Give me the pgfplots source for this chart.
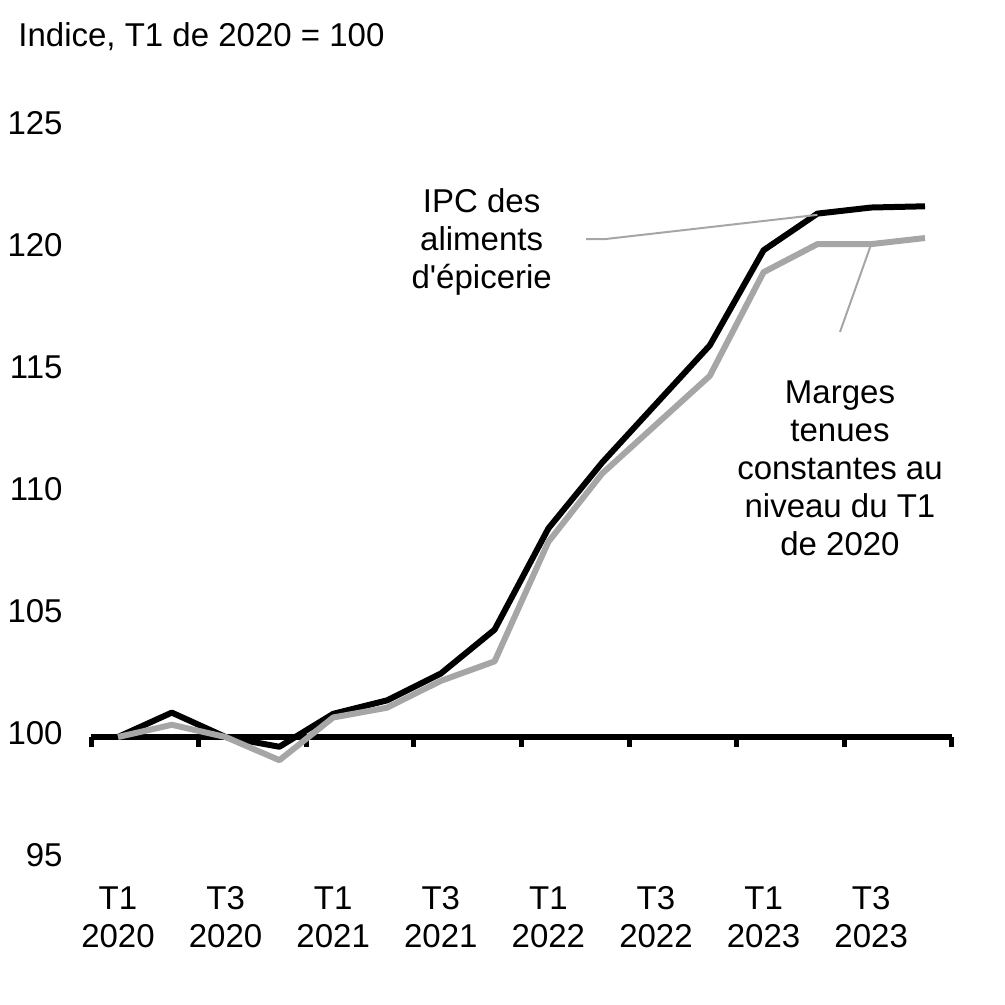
\documentclass[border=0pt]{standalone}
\usepackage{pgfplots}
\pgfplotsset{compat=1.18}
\usepackage{fontspec}
\setmainfont{Liberation Sans}
\newfontfamily\plainfont{Liberation Sans}
\definecolor{grisligne}{RGB}{166,166,166}
\begin{document}
\begin{tikzpicture}[font=\plainfont\fontsize{13.2}{15.2}\selectfont]
\begin{axis}[
  at={(0,0)}, anchor=south west,
  scale only axis,
  width=344.32pt, height=292.8pt,
  xmin=-0.5, xmax=15.5,
  ymin=95, ymax=125,
  axis line style={draw=none},
  major tick length=0pt,
  ytick={95,100,...,125},
  yticklabel style={inner sep=0pt, anchor=east, xshift=-11.2pt},
  xtick={0,2,...,14},
  xticklabels={{T1\\2020},{T3\\2020},{T1\\2021},{T3\\2021},{T1\\2022},{T3\\2022},{T1\\2023},{T3\\2023}},
  xticklabel style={align=center, inner sep=0pt, anchor=north, yshift=-9.36pt},
  typeset ticklabels with strut,
  /pgf/number format/assume math mode=true,
  clip=false,
  unbounded coords=jump,
]
% ligne de base a 100 avec ses graduations
\addplot[black, line width=2.2pt] coordinates {(-0.5,100) (15.5,100)};
\addplot[black, line width=2pt] coordinates {
  (-0.5,100) (-0.5,99.6) (0,nan)
  (1.5,100) (1.5,99.6) (0,nan)
  (3.5,100) (3.5,99.6) (0,nan)
  (5.5,100) (5.5,99.6) (0,nan)
  (7.5,100) (7.5,99.6) (0,nan)
  (9.5,100) (9.5,99.6) (0,nan)
  (11.5,100) (11.5,99.6) (0,nan)
  (13.5,100) (13.5,99.6) (0,nan)
  (15.5,100) (15.5,99.6)};
% IPC des aliments d'epicerie
\addplot[black, line width=2.4pt, line join=round] coordinates {
  (0,100) (1,101.0) (2,100.0) (3,99.6) (4,100.95) (5,101.5) (6,102.6) (7,104.4)
  (8,108.55) (9,111.25) (10,113.65) (11,116.05) (12,119.95) (13,121.45) (14,121.7) (15,121.75)};
% Marges tenues constantes
\addplot[grisligne, line width=2.4pt, line join=round] coordinates {
  (0,100) (1,100.5) (2,100.0) (3,99.05) (4,100.8) (5,101.2) (6,102.3) (7,103.1)
  (8,108.0) (9,110.8) (10,112.8) (11,114.8) (12,119.05) (13,120.2) (14,120.2) (15,120.45)};
% traits de rappel
\addplot[grisligne, line width=0.8pt] coordinates {(8.70,120.4) (9.03,120.4) (13,121.4)};
\addplot[grisligne, line width=0.8pt] coordinates {(13.42,116.6) (14,120.2)};
% textes
\node[anchor=base west, inner sep=0pt] at (axis cs:-1.86,128.28) {Indice, T1 de 2020 = 100};
\node[align=center, anchor=north, inner sep=0pt] at (axis cs:6.76,122.48) {IPC des\\aliments\\d'épicerie};
\node[align=center, anchor=north, inner sep=0pt] at (axis cs:13.42,114.63) {Marges\\tenues\\constantes au\\niveau du T1\\de 2020};
\end{axis}
\pgfresetboundingbox
\path[use as bounding box] (-36.44pt,-58.4pt) rectangle (365.56pt,343.6pt);
\end{tikzpicture}
\end{document}
